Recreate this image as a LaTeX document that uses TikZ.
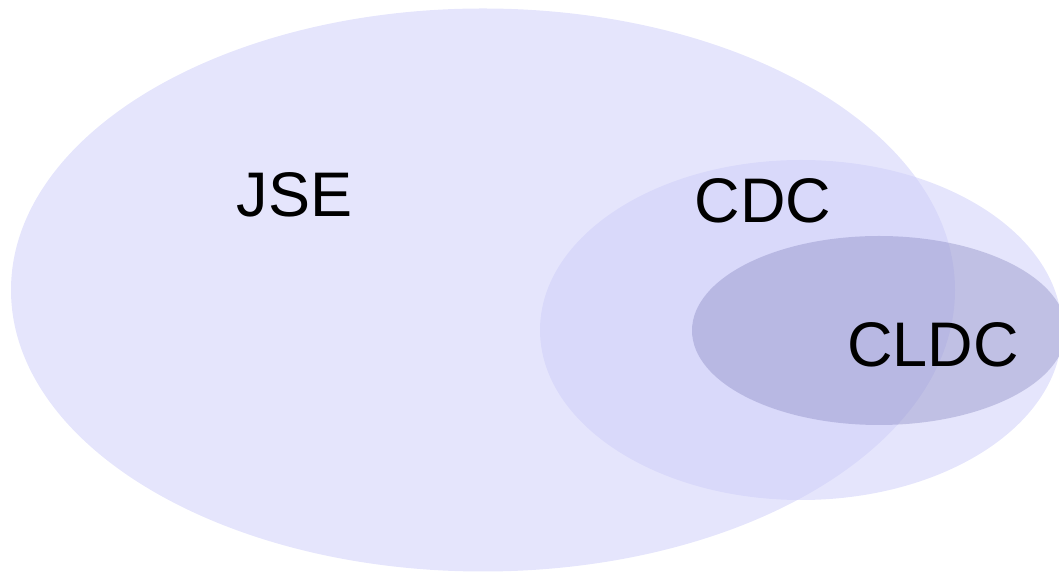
\documentclass[tikz,border=0pt]{standalone}
\usepackage{fontspec}
\setmainfont{Liberation Sans}
\usetikzlibrary{shapes.geometric}
\definecolor{jsefill}{RGB}{207,207,249}
\definecolor{cldcfill}{RGB}{118,118,180}
\tikzset{
  region/.style={ellipse, inner sep=0pt, draw=none, fill=jsefill, fill opacity=0.54},
  inner region/.style={ellipse, inner sep=0pt, draw=none, fill=cldcfill, fill opacity=0.33},
  label text/.style={font=\fontsize{63pt}{70pt}\selectfont, text=black, inner sep=0pt, anchor=base}
}
\begin{document}
\begin{tikzpicture}[x=1pt,y=1pt]
  \useasboundingbox (0,0) rectangle (1059,572);
  \clip (0,0) rectangle (1059,572);
  % nested sets
  \node[region, minimum width=944pt, minimum height=563pt] (jse) at (483,282) {};
  \node[region, minimum width=522pt, minimum height=340pt] (cdc) at (801,242) {};
  \node[inner region, minimum width=374pt, minimum height=189pt] (cldc) at (879,241.5) {};
  % set names
  \node[label text] (jsel) at (294.5,355) {JSE};
  \node[label text] (cdcl) at (763,349.5) {CDC};
  \node[label text] (cldcl) at (933,205.5) {CLDC};
\end{tikzpicture}
\end{document}
